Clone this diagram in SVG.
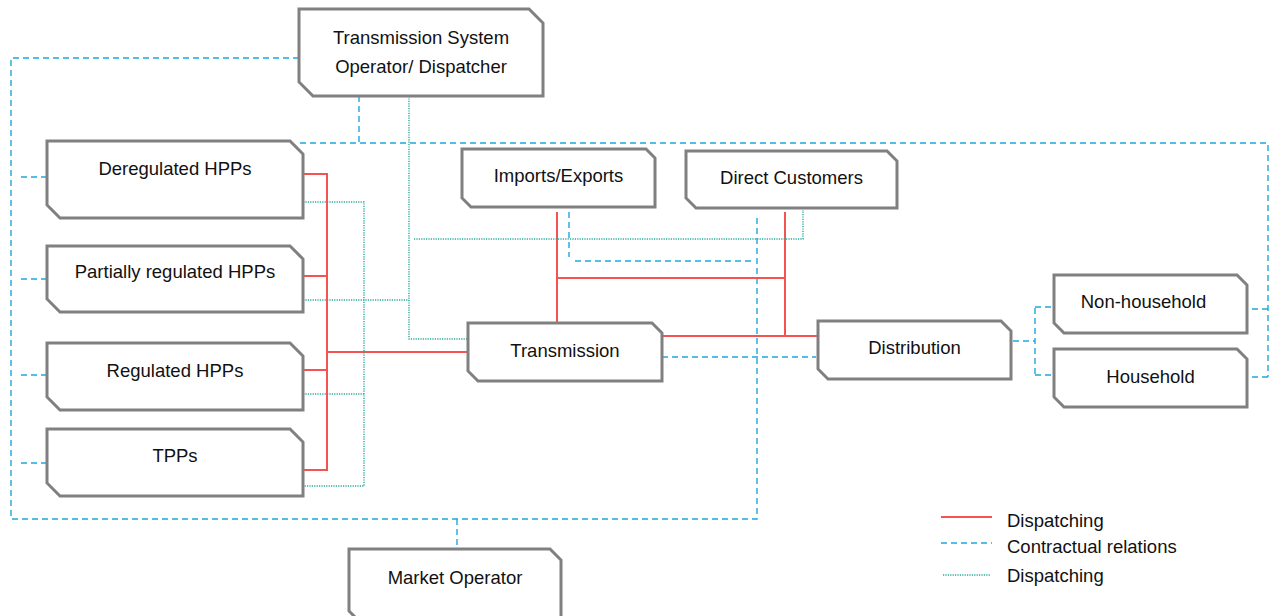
<svg xmlns="http://www.w3.org/2000/svg" width="1277" height="616" viewBox="0 0 1277 616">
<style>
.node path{fill:#fff;stroke:#808080;stroke-width:3}
.node text, .legend text{font-family:"Liberation Sans",Arial,sans-serif;font-size:18.5px;fill:#111;text-anchor:middle}
.legend text{text-anchor:start}
.red{stroke:#f55252;stroke-width:2;fill:none}
.blue{stroke:#1ea7dd;stroke-width:1.4;stroke-dasharray:6,4;fill:none}
.teal{stroke:#2aa89c;stroke-width:1.4;stroke-dasharray:1.2,1.2;fill:none}
</style>
<rect width="1277" height="616" fill="#fff"/>
<g id="connectors">
  <!-- contractual (blue dashed) -->
  <path class="blue" d="M299,58 H11 V519 H757 V214"/>
  <path class="blue" d="M359,96 V143"/>
  <path class="blue" d="M300,143 H1268 V377"/>
  <path class="blue" d="M1252,309 H1268"/>
  <path class="blue" d="M1252,377 H1268"/>
  <path class="blue" d="M21,177 H47"/>
  <path class="blue" d="M21,279 H47"/>
  <path class="blue" d="M21,375 H47"/>
  <path class="blue" d="M21,463 H47"/>
  <path class="blue" d="M457,519 V545"/>
  <path class="blue" d="M569,212 V257"/>
  <path class="blue" d="M575,261 H753"/>
  <path class="blue" d="M662,357 H816"/>
  <path class="blue" d="M1013,341 H1035"/>
  <path class="blue" d="M1035,308 V377"/>
  <path class="blue" d="M1035,307 H1054"/>
  <path class="blue" d="M1035,375 H1053"/>
  <!-- dispatching (red solid) -->
  <path class="red" d="M303,174 H327 V470 H303"/>
  <path class="red" d="M303,276 H327"/>
  <path class="red" d="M303,370 H327"/>
  <path class="red" d="M327,352 H468"/>
  <path class="red" d="M557,212 V323"/>
  <path class="red" d="M785,212 V336"/>
  <path class="red" d="M557,278 H785"/>
  <path class="red" d="M662,336 H818"/>
  <!-- dispatching (teal dotted) -->
  <path class="teal" d="M303,202 H364 V486 H303"/>
  <path class="teal" d="M303,394 H364"/>
  <path class="teal" d="M303,300 H409"/>
  <path class="teal" d="M409,96 V339 H467"/>
  <path class="teal" d="M414,239 H803 V210"/>
</g>
<g id="tso" class="node">
  <path d="M299,9 H529 L543,23 V96 H313 L299,82 Z"/>
  <text x="421" y="44">Transmission System</text>
  <text x="421" y="73">Operator/ Dispatcher</text>
</g>
<g id="deregulated" class="node">
  <path d="M47,141 H290 L303,154 V218 H60 L47,205 Z"/>
  <text x="175" y="175">Deregulated HPPs</text>
</g>
<g id="partially-regulated" class="node">
  <path d="M47,246 H290 L303,259 V312 H60 L47,299 Z"/>
  <text x="175" y="278">Partially regulated HPPs</text>
</g>
<g id="regulated" class="node">
  <path d="M47,343 H290 L303,356 V410 H60 L47,397 Z"/>
  <text x="175" y="377">Regulated HPPs</text>
</g>
<g id="tpps" class="node">
  <path d="M47,429 H290 L303,442 V496 H60 L47,483 Z"/>
  <text x="175" y="462">TPPs</text>
</g>
<g id="imports-exports" class="node">
  <path d="M462,149 H646 L655,158 V207 H471 L462,198 Z"/>
  <text x="558.5" y="182">Imports/Exports</text>
</g>
<g id="direct-customers" class="node">
  <path d="M686,151 H887 L897,161 V208 H696 L686,198 Z"/>
  <text x="791.5" y="184">Direct Customers</text>
</g>
<g id="transmission" class="node">
  <path d="M468,323 H652 L662,333 V381 H478 L468,371 Z"/>
  <text x="565" y="357">Transmission</text>
</g>
<g id="distribution" class="node">
  <path d="M818,321 H1001 L1011,331 V379 H828 L818,369 Z"/>
  <text x="914.5" y="354">Distribution</text>
</g>
<g id="non-household" class="node">
  <path d="M1054,275 H1237 L1247,285 V333 H1064 L1054,323 Z"/>
  <text x="1143.5" y="308">Non-household</text>
</g>
<g id="household" class="node">
  <path d="M1054,349 H1237 L1247,359 V407 H1064 L1054,397 Z"/>
  <text x="1150.5" y="383">Household</text>
</g>
<g id="market-operator" class="node">
  <path d="M349,549 H550 L561,560 V622 H360 L349,611 Z"/>
  <text x="455" y="584">Market Operator</text>
</g>
<g id="legend" class="legend">
  <path class="red" d="M941,517 H992"/>
  <text x="1007" y="527">Dispatching</text>
  <path class="blue" d="M941,543 H992"/>
  <text x="1007" y="553">Contractual relations</text>
  <path class="teal" d="M943,575 H991"/>
  <text x="1007" y="582">Dispatching</text>
</g>
</svg>
